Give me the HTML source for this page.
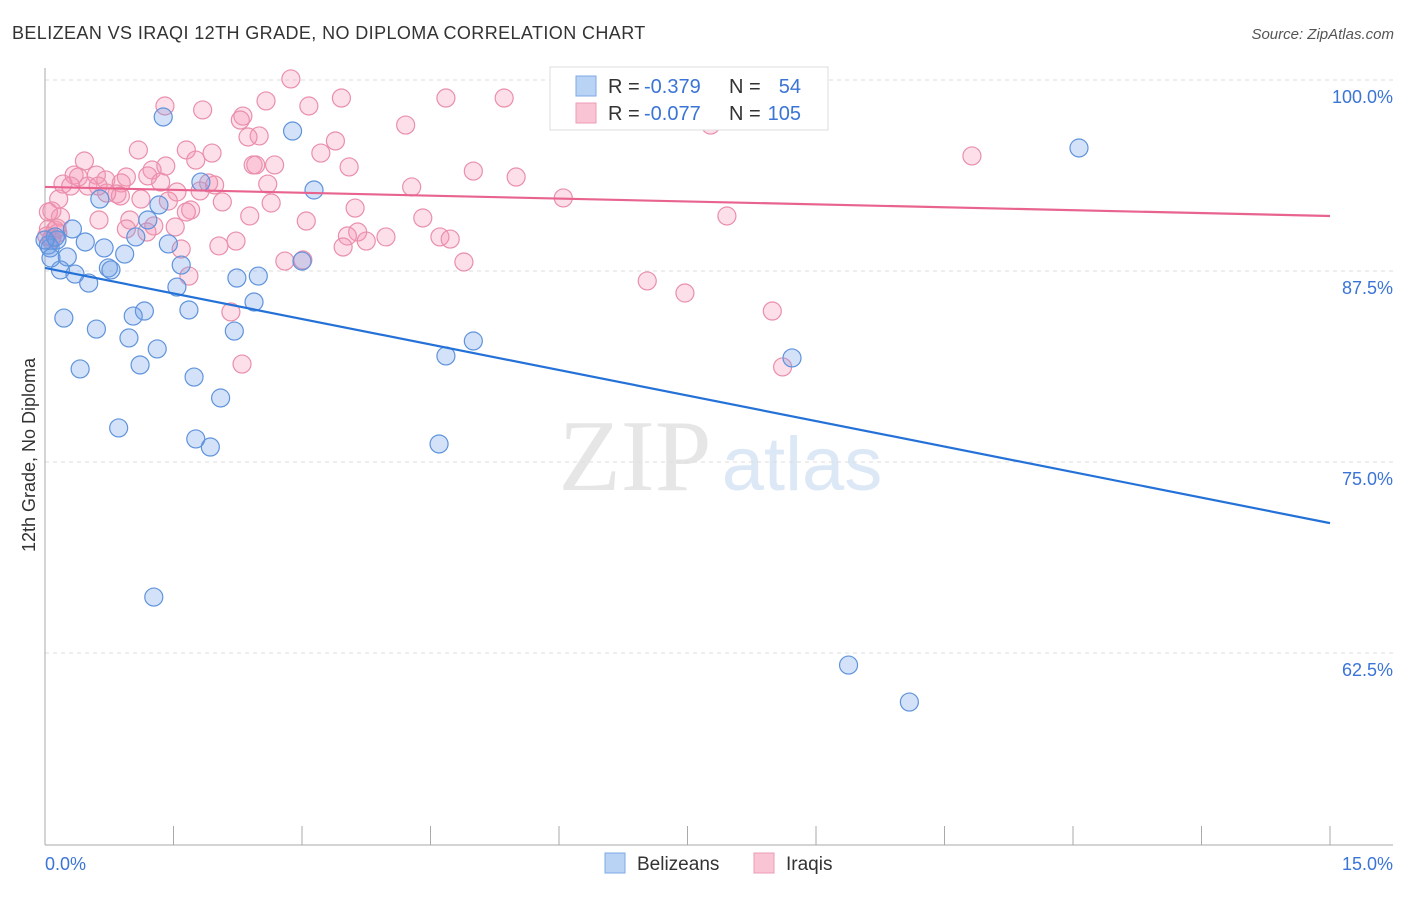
<!DOCTYPE html>
<html><head><meta charset="utf-8"><style>
body{margin:0;background:#fff;width:1406px;height:892px;overflow:hidden;font-family:"Liberation Sans",sans-serif}
</style></head><body>
<svg id="chart" width="1406" height="892" xmlns="http://www.w3.org/2000/svg" font-family="Liberation Sans, sans-serif">
<text x="12" y="39" font-size="18" letter-spacing="0.4" fill="#333">BELIZEAN VS IRAQI 12TH GRADE, NO DIPLOMA CORRELATION CHART</text>
<text x="1394" y="39" font-size="15" fill="#555" text-anchor="end" font-style="italic">Source: ZipAtlas.com</text>
<g><text x="635" y="490" font-size="102" fill="#e6e6e6" font-family="Liberation Serif, serif" text-anchor="middle">ZIP</text><text x="802" y="490" font-size="76" fill="#dce8f6" text-anchor="middle">atlas</text></g>
<g id="grid"></g><g id="axes"></g><g id="pts"></g><g id="lines"></g>
<text transform="translate(35,455) rotate(-90)" font-size="18" fill="#333" text-anchor="middle">12th Grade, No Diploma</text>
<text x="45" y="870" font-size="18" fill="#3a74d6">0.0%</text>
<text x="1393" y="870" font-size="18" fill="#3a74d6" text-anchor="end">15.0%</text>
<g>
<rect x="550" y="67" width="278" height="63" fill="#fff" stroke="#ddd"/>
<rect x="576" y="76" width="20" height="20" fill="#b9d3f5" stroke="#7eaae6"/>
<rect x="576" y="103" width="20" height="20" fill="#f9c4d3" stroke="#ee9bb4"/>
<text x="608" y="93" font-size="20" fill="#333">R =</text>
<text x="644" y="93" font-size="20" fill="#3a74d6">-0.379</text>
<text x="729" y="93" font-size="20" fill="#333">N =</text>
<text x="801" y="93" font-size="20" fill="#3a74d6" text-anchor="end">54</text>
<text x="608" y="120" font-size="20" fill="#333">R =</text>
<text x="644" y="120" font-size="20" fill="#3a74d6">-0.077</text>
<text x="729" y="120" font-size="20" fill="#333">N =</text>
<text x="801" y="120" font-size="20" fill="#3a74d6" text-anchor="end">105</text>
</g>
<g>
<rect x="605" y="853" width="20" height="20" fill="#b9d3f5" stroke="#7eaae6"/>
<text x="637" y="870" font-size="19" fill="#333">Belizeans</text>
<rect x="754" y="853" width="20" height="20" fill="#f9c4d3" stroke="#ee9bb4"/>
<text x="786" y="870" font-size="19" fill="#333">Iraqis</text>
</g>
</svg>
<script>
const yTicks=[100,87.5,75,62.5];
const yTickLabels=["100.0%","87.5%","75.0%","62.5%"];
const xTicks=[0,1.5,3,4.5,6,7.5,9,10.5,12,13.5,15];
const blueX=[1.38,2.89,12.07,1.82,3.14,0.64,1.33,1.20,0.32,0.14,0.47,1.06,1.44,0.69,0.93,0.06,0.26,3.00,1.59,0.18,0.35,0.74,0.77,0.51,2.24,2.49,1.54,2.44,1.16,1.03,1.68,0.22,0.60,2.21,0.98,1.31,5.00,4.68,8.72,0.41,1.11,1.74,2.05,0.86,1.76,1.93,4.60,1.27,9.38,10.09,0.04,0.12,0.0,0.07];
const blueY=[97.58,96.66,95.55,93.32,92.80,92.21,91.82,90.84,90.25,89.53,89.40,89.73,89.27,89.01,88.61,89.01,88.42,88.15,87.89,87.57,87.30,87.70,87.57,86.71,87.04,87.17,86.45,85.47,84.88,84.55,84.95,84.42,83.70,83.57,83.12,82.40,82.92,81.94,81.81,81.09,81.35,80.56,79.19,77.23,76.51,75.98,76.18,66.16,61.71,59.29,89.20,89.73,89.53,88.35];
const pinkX=[2.87,6.61,1.40,1.84,2.58,3.46,4.68,5.36,3.08,2.31,2.28,4.21,7.77,2.50,2.37,3.39,3.22,1.65,1.95,1.09,0.46,2.43,2.68,2.46,3.55,1.76,1.41,5.00,5.50,10.82,0.34,0.39,0.60,0.95,1.25,1.20,0.71,0.89,0.21,0.30,0.50,0.62,1.81,1.98,1.91,2.60,1.35,1.54,4.28,0.84,0.88,0.72,6.05,0.16,1.12,2.07,1.44,2.64,3.62,1.70,1.65,0.08,0.18,0.04,7.96,4.41,0.63,0.99,1.27,1.52,2.39,3.05,0.95,1.19,0.12,0.04,0.15,0.08,3.65,3.53,3.75,3.98,4.61,4.73,2.23,2.03,3.48,1.59,2.80,3.01,4.89,1.68,7.03,7.47,2.17,8.49,2.30,8.61,0.07,0.02,0.14,6.48];
const pinkY=[100.07,99.67,98.30,98.04,98.63,98.82,98.82,98.82,98.30,97.64,97.38,97.05,97.05,96.34,96.27,96.01,95.22,95.42,95.22,95.42,94.70,94.44,94.44,94.44,94.31,94.76,94.37,94.04,93.65,95.03,93.78,93.65,93.78,93.65,94.11,93.72,93.46,93.26,93.19,93.06,93.06,93.06,92.74,93.13,93.26,93.19,93.32,92.67,93.00,92.54,92.41,92.60,92.28,92.21,92.21,92.02,92.08,91.95,91.62,91.49,91.36,91.43,91.03,91.36,91.10,90.97,90.84,90.84,90.45,90.38,91.10,90.77,90.25,90.05,90.18,90.25,89.99,89.66,90.05,89.79,89.46,89.73,89.73,89.59,89.46,89.14,89.07,88.94,88.15,88.22,88.09,87.17,86.85,86.06,84.82,84.88,81.41,81.22,89.53,89.79,90.31,97.51];
const blueTrend=[87.70,71.0];
const pinkTrend=[93.0,91.1];
const NS="http://www.w3.org/2000/svg";
const sx=v=>45+v*(1285/15);
const sy=v=>80+(100-v)*15.28;
function mk(tag,attrs,parent){const e=document.createElementNS(NS,tag);for(const k in attrs)e.setAttribute(k,attrs[k]);document.getElementById(parent).appendChild(e);return e;}
yTicks.forEach((t,i)=>{
 const g=mk('line',{x1:45,x2:1393,y1:sy(t),y2:sy(t),stroke:'#ddd','stroke-dasharray':'4,4'},'grid');
 
 
 const l=mk('text',{x:1393,y:sy(t)+23,'font-size':18,fill:'#3a74d6','text-anchor':'end'},'grid');
 l.textContent=yTickLabels[i];
 
 
});
const ya=mk('line',{x1:45,x2:45,y1:68,y2:845,stroke:'#aaa'},'axes');


const xa=mk('line',{x1:45,x2:1393,y1:845,y2:845,stroke:'#aaa'},'axes');


xTicks.forEach(t=>{
 const k=mk('line',{x1:sx(t),x2:sx(t),y1:826,y2:845,stroke:'#aaa'},'axes');
 
 
});
function pts(xs,ys,fill,stroke,name){
 xs.forEach((x,i)=>{
  const c=mk('circle',{cx:sx(x),cy:sy(ys[i]),r:9,fill:fill,stroke:stroke,'stroke-width':1.2},'pts');
  
  
 });
}
pts(pinkX,pinkY,'rgba(244,150,178,0.3)','#ea8fab','iraqi-point');
pts(blueX,blueY,'rgba(110,160,232,0.3)','#5f93dc','belizean-point');
const bl=mk('line',{x1:sx(0),y1:sy(blueTrend[0]),x2:sx(15),y2:sy(blueTrend[1]),stroke:'#2471d8','stroke-width':2.2},'lines');


const pl=mk('line',{x1:sx(0),y1:sy(pinkTrend[0]),x2:sx(15),y2:sy(pinkTrend[1]),stroke:'#e8648f','stroke-width':2.2},'lines');


</script>
</body></html>
